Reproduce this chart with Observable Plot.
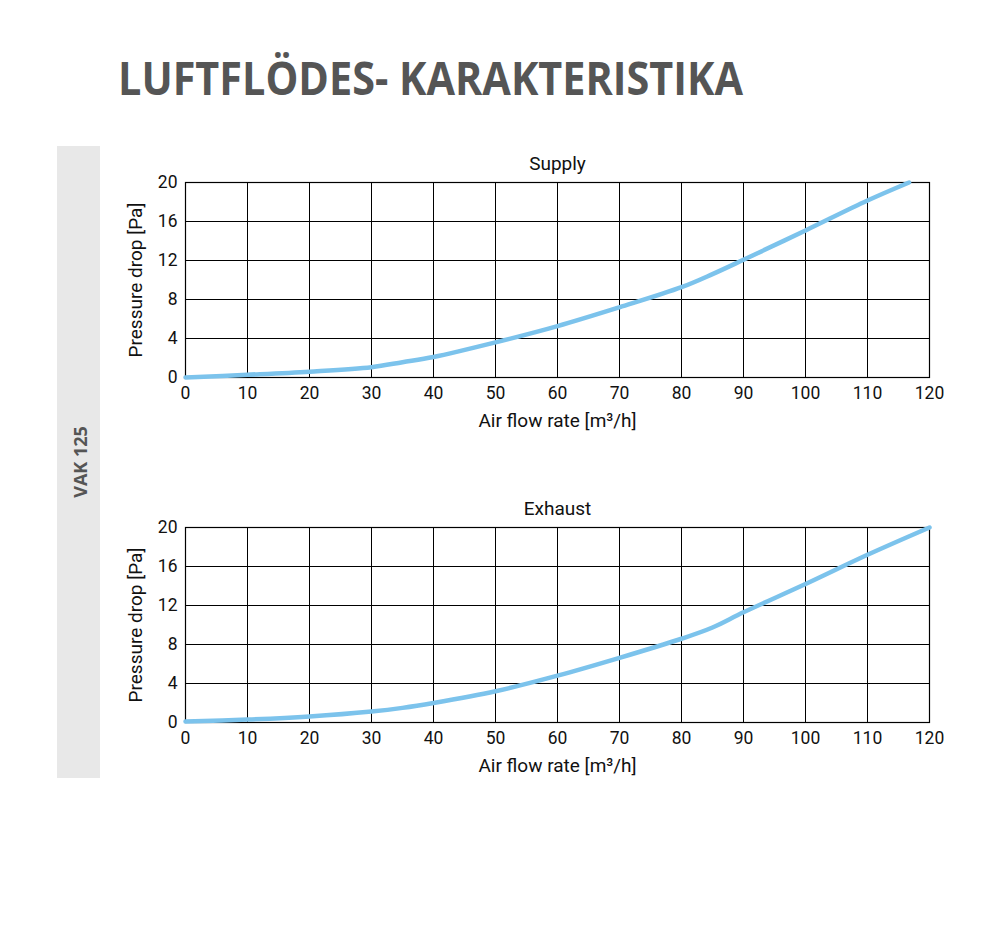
<!DOCTYPE html>
<html>
<head>
<meta charset="utf-8">
<script src="https://cdn.jsdelivr.net/npm/d3@7"></script>
<script src="https://cdn.jsdelivr.net/npm/@observablehq/plot@0.6"></script>
<style>
  html, body { margin: 0; padding: 0; background: #fff; }
  body { width: 1000px; height: 934px; position: relative; overflow: hidden; font-family: Roboto, "Noto Sans", sans-serif; }
  #title { position: absolute; left: 0; top: 0; }
  #side { position: absolute; left: 57px; top: 146px; width: 43px; height: 632px; background: #e8e8e8; }
  #sideLabel { position: absolute; left: 0; top: 0; }
  .chart { position: absolute; left: 0; }
  #supply { top: 140px; }
  #exhaust { top: 485px; }
</style>
</head>
<body>
<svg id="title" width="1000" height="120">
  <text x="118" y="95" textLength="625" lengthAdjust="spacingAndGlyphs" font-family="Open Sans" font-weight="700" font-size="46" fill="#555555">LUFTFLÖDES- KARAKTERISTIKA</text>
</svg>
<div id="side"></div>
<svg id="sideLabel" width="1000" height="934">
  <text transform="translate(87,462) rotate(-90)" text-anchor="middle" font-family="Open Sans" font-weight="700" font-size="18" fill="#555555">VAK 125</text>
</svg>
<div id="supply" class="chart"></div>
<div id="exhaust" class="chart"></div>
<script>
// Supply curve
const supplyFlow = [0, 10, 20, 30, 35, 40, 50, 60, 70, 80, 85, 90, 100, 110, 116.7];
const supplyDrop = [0, 0.28, 0.6, 1.06, 1.57, 2.1, 3.6, 5.27, 7.2, 9.26, 10.6, 12.07, 15.08, 18.15, 20];
// Exhaust curve
const exhaustFlow = [0, 10, 20, 30, 35, 40, 50, 60, 70, 80, 85, 90, 100, 110, 120];
const exhaustDrop = [0.1, 0.3, 0.62, 1.13, 1.5, 2.0, 3.2, 4.8, 6.63, 8.59, 9.74, 11.3, 14.2, 17.2, 20];
// Axes
const xTicks = [0, 10, 20, 30, 40, 50, 60, 70, 80, 90, 100, 110, 120];
const yTicks = [0, 4, 8, 12, 16, 20];
const xLabel = "Air flow rate [m³/h]";
const yLabel = "Pressure drop [Pa]";

function chart(title, flow, drop) {
  const data = flow.map((x, i) => ({x, y: drop[i]}));
  return Plot.plot({
    width: 1000,
    height: 300,
    marginLeft: 185,
    marginRight: 71,
    marginTop: 42,
    marginBottom: 63,
    style: {fontFamily: "Roboto", fontSize: "17.5px", color: "#111", background: "transparent"},
    x: {domain: [0, 120], ticks: xTicks, label: null},
    y: {domain: [0, 20], ticks: yTicks, label: null},
    marks: [
      Plot.gridX(xTicks, {stroke: "#000", strokeOpacity: 1, strokeWidth: 1}),
      Plot.gridY(yTicks, {stroke: "#000", strokeOpacity: 1, strokeWidth: 1}),
      Plot.frame({stroke: "#000", strokeWidth: 1.2}),
      Plot.axisX(xTicks, {tickSize: 0, tickPadding: 9, label: null, fontSize: 17.5}),
      Plot.axisY(yTicks, {tickSize: 0, tickPadding: 8, label: null, fontSize: 17.5}),
      Plot.line(data, {x: "x", y: "y", stroke: "#7cc3ec", strokeWidth: 4.5, curve: "catmull-rom"}),
      Plot.text([title], {frameAnchor: "top", lineAnchor: "middle", textAnchor: "middle", dy: -19, fontSize: 19, fill: "#111"}),
      Plot.text([xLabel], {frameAnchor: "bottom", lineAnchor: "middle", textAnchor: "middle", dy: 43, fontSize: 19, fill: "#111"}),
      Plot.text([yLabel], {frameAnchor: "left", lineAnchor: "middle", textAnchor: "middle", dx: -50, rotate: -90, fontSize: 19, fill: "#111"})
    ]
  });
}
document.getElementById("supply").append(chart("Supply", supplyFlow, supplyDrop));
document.getElementById("exhaust").append(chart("Exhaust", exhaustFlow, exhaustDrop));
</script>
</body>
</html>
